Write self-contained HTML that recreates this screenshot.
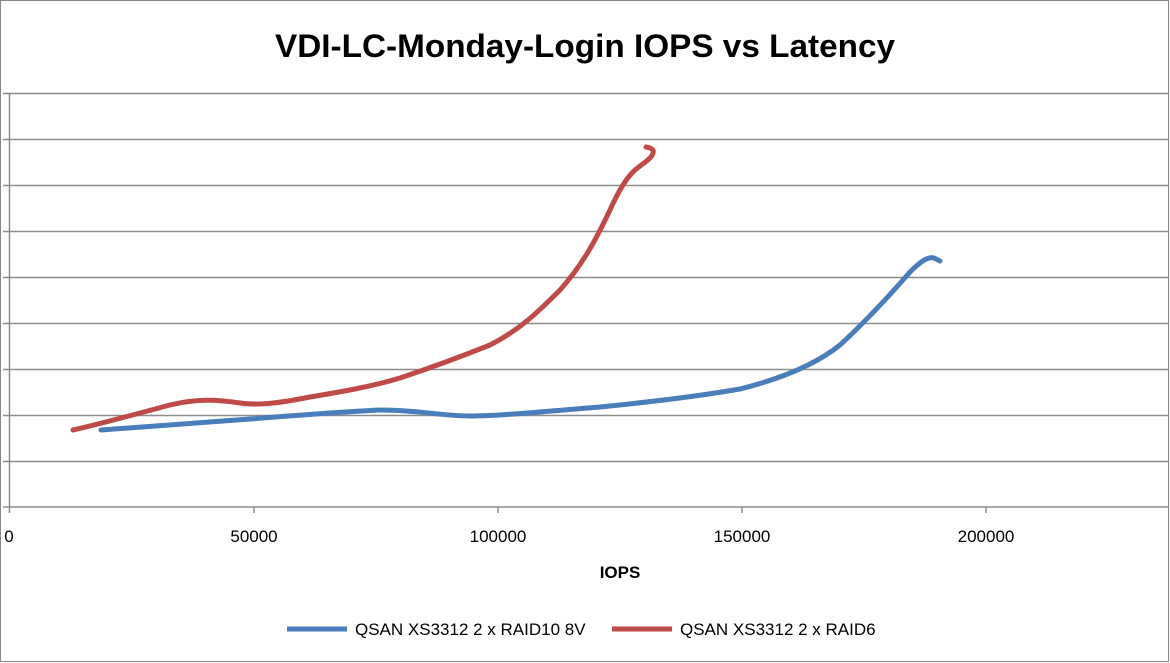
<!DOCTYPE html>
<html><head><meta charset="utf-8"><style>
html,body{margin:0;padding:0;background:#fff;}
svg{display:block;font-family:"Liberation Sans",sans-serif;}
</style></head><body>
<svg width="1170" height="663" viewBox="0 0 1170 663" xmlns="http://www.w3.org/2000/svg">
<rect x="0.5" y="0.5" width="1168" height="661" fill="#fff" stroke="#888"/>
<text x="585" y="57" text-anchor="middle" font-size="32" font-weight="bold" fill="#000" textLength="620" lengthAdjust="spacingAndGlyphs">VDI-LC-Monday-Login IOPS vs Latency</text>
<g stroke="#8c8c8c" stroke-width="1.5">
<line x1="3" y1="93.5" x2="1168" y2="93.5"/>
<line x1="3" y1="139.5" x2="1168" y2="139.5"/>
<line x1="3" y1="185.5" x2="1168" y2="185.5"/>
<line x1="3" y1="231.5" x2="1168" y2="231.5"/>
<line x1="3" y1="277.5" x2="1168" y2="277.5"/>
<line x1="3" y1="323.5" x2="1168" y2="323.5"/>
<line x1="3" y1="369.5" x2="1168" y2="369.5"/>
<line x1="3" y1="415.5" x2="1168" y2="415.5"/>
<line x1="3" y1="461.5" x2="1168" y2="461.5"/>
<line x1="3" y1="507" x2="1168" y2="507"/>
<line x1="9.5" y1="93" x2="9.5" y2="513"/>
<line x1="254" y1="507" x2="254" y2="513"/>
<line x1="498" y1="507" x2="498" y2="513"/>
<line x1="742" y1="507" x2="742" y2="513"/>
<line x1="986" y1="507" x2="986" y2="513"/>
</g>
<g font-size="17" fill="#000" text-anchor="middle">
<text x="9" y="542">0</text>
<text x="254" y="542">50000</text>
<text x="498" y="542">100000</text>
<text x="742" y="542">150000</text>
<text x="986" y="542">200000</text>
</g>
<text x="620" y="578" text-anchor="middle" font-size="17" font-weight="bold">IOPS</text>
<path fill="none" stroke="#4a7ebb" stroke-width="5" stroke-linecap="round" stroke-linejoin="round"
d="M101,430 C150,426 200,423 250,419 C300,415 340,412 380,410 C420,410 440,416 470,416 C500,416 550,411 600,407 C650,402 700,396 740,389 C780,379 815,365 840,345 C865,322 890,295 910,272 C920,262 928,256 934,258 L940,261"/>
<path fill="none" stroke="#be4b48" stroke-width="5" stroke-linecap="round" stroke-linejoin="round"
d="M73,430 C100,424 140,413 170,405 C195,399 215,399 240,403 C260,406 285,402 310,397 C340,392 370,387 400,378 C430,368 460,357 490,345 C520,330 540,310 560,290 C585,262 598,235 610,210 C618,192 626,178 635,170 C645,162 652,158 653,153 C654,150 652,148 646,147"/>
<line x1="287" y1="629" x2="347" y2="629" stroke="#4a7ebb" stroke-width="5"/>
<text x="355" y="635" font-size="17">QSAN XS3312 2 x RAID10 8V</text>
<line x1="612" y1="629" x2="672" y2="629" stroke="#be4b48" stroke-width="5"/>
<text x="680" y="635" font-size="17">QSAN XS3312 2 x RAID6</text>
</svg>
</body></html>
